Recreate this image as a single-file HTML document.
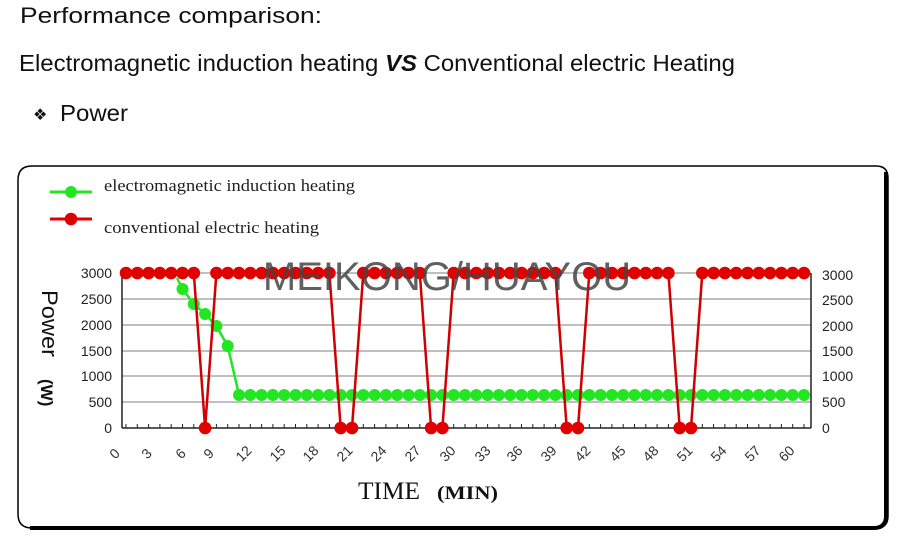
<!DOCTYPE html>
<html><head><meta charset="utf-8"><style>
body{margin:0;width:898px;height:538px;background:#fff;overflow:hidden;font-family:"Liberation Sans",sans-serif}
svg{position:absolute;left:0;top:0}
</style></head><body>
<svg width="898" height="538" viewBox="0 0 898 538">
<defs>
<marker id="r" markerUnits="userSpaceOnUse" markerWidth="14" markerHeight="14" refX="7" refY="7"><circle cx="7" cy="7" r="6.3" fill="#e00000"/></marker>
<marker id="g" markerUnits="userSpaceOnUse" markerWidth="14" markerHeight="14" refX="7" refY="7"><circle cx="7" cy="7" r="6" fill="#22e622"/></marker>
</defs>
<text x="20" y="23" font-size="22" fill="#111" textLength="302" lengthAdjust="spacingAndGlyphs">Performance comparison:</text>
<text x="19" y="71" font-size="23" fill="#111" textLength="716" lengthAdjust="spacingAndGlyphs">Electromagnetic induction heating <tspan font-weight="bold" font-style="italic">VS</tspan> Conventional electric Heating</text>
<text x="33" y="120" font-family="DejaVu Sans" font-size="16" fill="#111">❖</text>
<text x="60" y="121" font-size="23" fill="#111" textLength="68" lengthAdjust="spacingAndGlyphs">Power</text>
<path d="M32,166 H876 Q888,166 888,178 V516 Q888,528 876,528 H32 Q18,528 18,514 V180 Q18,166 32,166 Z" fill="none" stroke="#000" stroke-width="1.5"/>
<path d="M886,172 V516 Q886,528 874,528 H30" fill="none" stroke="#000" stroke-width="4"/>
<polyline points="50,192 71,192 92,192" fill="none" stroke="#22e622" stroke-width="3" marker-mid="url(#g)"/>
<polyline points="50,219 71,219 92,219" fill="none" stroke="#e00000" stroke-width="3" marker-mid="url(#r)"/>
<text x="104" y="191" font-family="Liberation Serif" font-size="17" fill="#222" textLength="251" lengthAdjust="spacingAndGlyphs">electromagnetic induction heating</text>
<text x="104" y="233" font-family="Liberation Serif" font-size="17" fill="#222" textLength="215" lengthAdjust="spacingAndGlyphs">conventional electric heating</text>
<g stroke="#999" stroke-width="1.3">
<line x1="122" y1="273" x2="811" y2="273"/><line x1="122" y1="299" x2="811" y2="299"/><line x1="122" y1="325" x2="811" y2="325"/><line x1="122" y1="351" x2="811" y2="351"/><line x1="122" y1="376" x2="811" y2="376"/><line x1="122" y1="402" x2="811" y2="402"/>
</g>
<line x1="122" y1="273" x2="122" y2="428" stroke="#222" stroke-width="1.5"/>
<line x1="811" y1="273" x2="811" y2="428" stroke="#222" stroke-width="1.5"/>
<line x1="122" y1="428" x2="811" y2="428" stroke="#222" stroke-width="1.5"/>
<path d="M126,428v-4M137.3,428v-4M148.6,428v-4M159.9,428v-4M171.2,428v-4M182.5,428v-4M193.8,428v-4M205.1,428v-4M216.4,428v-4M227.7,428v-4M239,428v-4M250.3,428v-4M261.6,428v-4M272.9,428v-4M284.2,428v-4M295.5,428v-4M306.8,428v-4M318.1,428v-4M329.4,428v-4M340.7,428v-4M352,428v-4M363.3,428v-4M374.6,428v-4M385.9,428v-4M397.2,428v-4M408.5,428v-4M419.8,428v-4M431.1,428v-4M442.4,428v-4M453.7,428v-4M465,428v-4M476.3,428v-4M487.6,428v-4M498.9,428v-4M510.2,428v-4M521.5,428v-4M532.8,428v-4M544.1,428v-4M555.4,428v-4M566.7,428v-4M578,428v-4M589.3,428v-4M600.6,428v-4M611.9,428v-4M623.2,428v-4M634.5,428v-4M645.8,428v-4M657.1,428v-4M668.4,428v-4M679.7,428v-4M691,428v-4M702.3,428v-4M713.6,428v-4M724.9,428v-4M736.2,428v-4M747.5,428v-4M758.8,428v-4M770.1,428v-4M781.4,428v-4M792.7,428v-4M804,428v-4" stroke="#222" stroke-width="1"/>
<g font-size="14" fill="#222" text-anchor="end">
<text x="112" y="278">3000</text><text x="112" y="304">2500</text><text x="112" y="330">2000</text><text x="112" y="356">1500</text><text x="112" y="381">1000</text><text x="112" y="407">500</text><text x="112" y="433">0</text>
</g>
<g font-size="14" fill="#222">
<text x="822" y="280">3000</text><text x="822" y="305">2500</text><text x="822" y="331">2000</text><text x="822" y="356">1500</text><text x="822" y="381">1000</text><text x="822" y="407">500</text><text x="822" y="433">0</text>
</g>
<g font-size="14" fill="#333" text-anchor="middle">
<text transform="translate(118,457) rotate(-45)">0</text>
<text transform="translate(150,457) rotate(-45)">3</text>
<text transform="translate(184,457) rotate(-45)">6</text>
<text transform="translate(212,457) rotate(-45)">9</text>
<text transform="translate(247,457) rotate(-45)">12</text>
<text transform="translate(281,457) rotate(-45)">15</text>
<text transform="translate(314,457) rotate(-45)">18</text>
<text transform="translate(348,457) rotate(-45)">21</text>
<text transform="translate(382,457) rotate(-45)">24</text>
<text transform="translate(416,457) rotate(-45)">27</text>
<text transform="translate(451,457) rotate(-45)">30</text>
<text transform="translate(486,457) rotate(-45)">33</text>
<text transform="translate(518,457) rotate(-45)">36</text>
<text transform="translate(552,457) rotate(-45)">39</text>
<text transform="translate(586,457) rotate(-45)">42</text>
<text transform="translate(621,457) rotate(-45)">45</text>
<text transform="translate(654,457) rotate(-45)">48</text>
<text transform="translate(688,457) rotate(-45)">51</text>
<text transform="translate(722,457) rotate(-45)">54</text>
<text transform="translate(756,457) rotate(-45)">57</text>
<text transform="translate(790,457) rotate(-45)">60</text>
</g>
<text transform="translate(42,290) rotate(90)" font-size="22" fill="#111" textLength="67" lengthAdjust="spacingAndGlyphs">Power</text>
<text transform="translate(41,379) rotate(90)" font-size="17" font-weight="bold" fill="#111">(W)</text>
<text x="358" y="499" font-family="Liberation Serif" font-size="25" fill="#111" textLength="62" lengthAdjust="spacingAndGlyphs">TIME</text>
<text x="437" y="499" font-family="Liberation Serif" font-size="19" font-weight="bold" fill="#111" textLength="61" lengthAdjust="spacingAndGlyphs">(MIN)</text>
<polyline points="177,278 182.5,289 193.8,304 205.1,314 216.4,326 227.7,346 239,395 250.3,395 261.6,395 272.9,395 284.2,395 295.5,395 306.8,395 318.1,395 329.4,395 340.7,395 352,395 363.3,395 374.6,395 385.9,395 397.2,395 408.5,395 419.8,395 431.1,395 442.4,395 453.7,395 465,395 476.3,395 487.6,395 498.9,395 510.2,395 521.5,395 532.8,395 544.1,395 555.4,395 566.7,395 578,395 589.3,395 600.6,395 611.9,395 623.2,395 634.5,395 645.8,395 657.1,395 668.4,395 679.7,395 691,395 702.3,395 713.6,395 724.9,395 736.2,395 747.5,395 758.8,395 770.1,395 781.4,395 792.7,395 804,395" fill="none" stroke="#22e622" stroke-width="2.5" marker-mid="url(#g)" marker-end="url(#g)"/>
<polyline points="126,273 137.3,273 148.6,273 159.9,273 171.2,273 182.5,273 193.8,273 205.1,428 216.4,273 227.7,273 239,273 250.3,273 261.6,273 272.9,273 284.2,273 295.5,273 306.8,273 318.1,273 329.4,273 340.7,428 352,428 363.3,273 374.6,273 385.9,273 397.2,273 408.5,273 419.8,273 431.1,428 442.4,428 453.7,273 465,273 476.3,273 487.6,273 498.9,273 510.2,273 521.5,273 532.8,273 544.1,273 555.4,273 566.7,428 578,428 589.3,273 600.6,273 611.9,273 623.2,273 634.5,273 645.8,273 657.1,273 668.4,273 679.7,428 691,428 702.3,273 713.6,273 724.9,273 736.2,273 747.5,273 758.8,273 770.1,273 781.4,273 792.7,273 804,273" fill="none" stroke="#d00000" stroke-width="2.5" marker-start="url(#r)" marker-mid="url(#r)" marker-end="url(#r)"/>
<text x="447" y="290" font-size="40" fill="#444" fill-opacity="0.85" text-anchor="middle">MEIKONG/HUAYOU</text>
</svg>
</body></html>
